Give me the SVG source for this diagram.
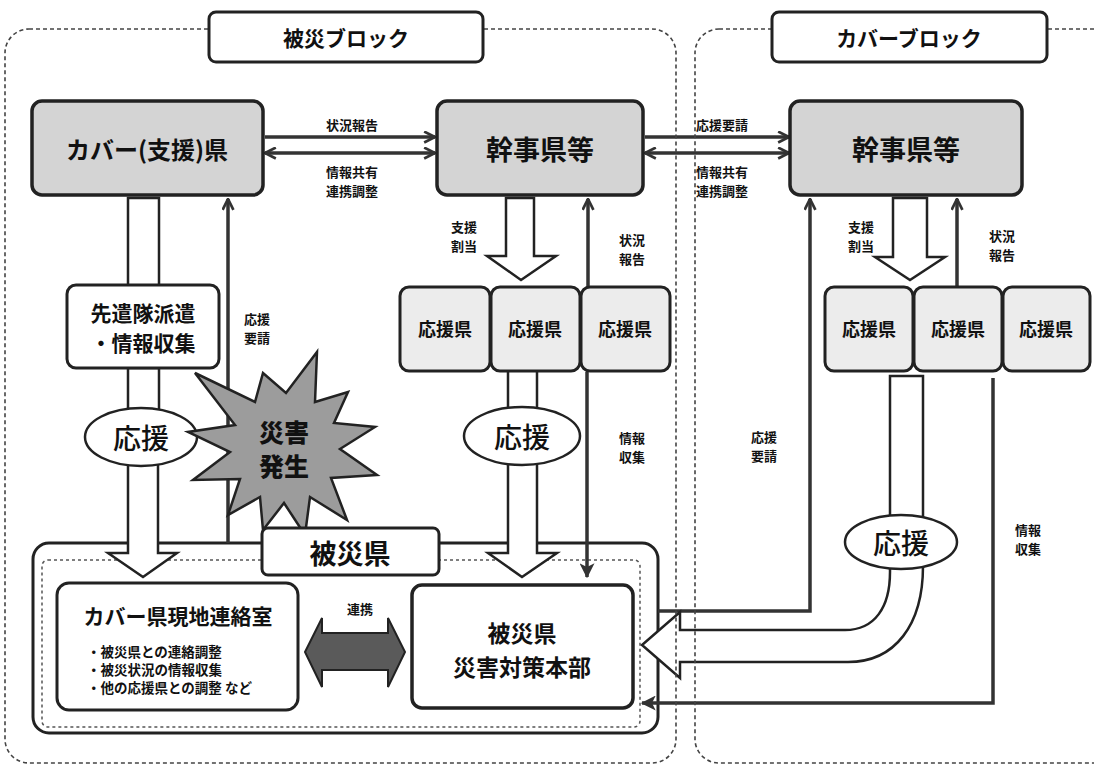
<svg xmlns="http://www.w3.org/2000/svg" width="1094" height="767" viewBox="0 0 1094 767">
<defs>
<style>
text{font-family:"Noto Sans CJK JP","Noto Sans CJK SC",sans-serif;font-weight:700;fill:#111;text-anchor:middle;dominant-baseline:central}
.blk{fill:none;stroke:#444;stroke-width:1.6;stroke-dasharray:4 3}
.title{fill:#fff;stroke:#222;stroke-width:3}
.main{fill:#d4d4d4;stroke:#222;stroke-width:3.5}
.sup{fill:#ececec;stroke:#222;stroke-width:3}
.wbox{fill:#fff;stroke:#222;stroke-width:3}
.hol{fill:#fff;stroke:#222;stroke-width:2.5;stroke-linejoin:miter}
.ell{fill:#fff;stroke:#222;stroke-width:2.5}
.ln{fill:none;stroke:#333;stroke-width:3.5}
.lbl{font-size:13px}
.yo{font-size:18px}
.oe{font-size:28px;font-weight:500}
</style>
<marker id="open" viewBox="0 0 12 12" refX="11" refY="6" markerWidth="13" markerHeight="13" markerUnits="userSpaceOnUse" orient="auto-start-reverse">
<path d="M1,1 L11,6 L1,11" fill="none" stroke="#333" stroke-width="2.5"/>
</marker>
<marker id="solid" viewBox="0 0 12 12" refX="11" refY="6" markerWidth="15" markerHeight="15" markerUnits="userSpaceOnUse" orient="auto">
<path d="M0,0 L12,6 L0,12 L3,6 z" fill="#333"/>
</marker>
</defs>
<rect width="1094" height="767" fill="#fff"/>

<g id="hisai-ken-outer">
<rect x="33" y="543" width="625" height="190" rx="16" class="wbox"/>
<rect x="42" y="560" width="598" height="167" rx="6" fill="none" stroke="#555" stroke-width="1.5" stroke-dasharray="3 3"/>
</g>

<g id="connectors">
<path class="ln" d="M265,137 H435" marker-end="url(#open)"/>
<path class="ln" d="M265,153 H435" marker-start="url(#open)" marker-end="url(#open)"/>
<path class="ln" d="M645,137 H789" marker-end="url(#open)"/>
<path class="ln" d="M645,153 H789" marker-start="url(#open)" marker-end="url(#open)"/>
<path class="ln" d="M228,543 V199" marker-end="url(#open)"/>
<path class="ln" d="M588,287 V199" marker-end="url(#open)"/>
<path class="ln" d="M587,372 V577" marker-end="url(#solid)"/>
<path class="ln" d="M658,611 H810 V199" marker-end="url(#open)"/>
<path class="ln" d="M957,287 V199" marker-end="url(#open)"/>
<path class="ln" d="M993,378 V703 H642" marker-end="url(#solid)"/>
<polygon class="hol" points="128,198 159,198 159,287 128,287"/>
<polygon class="hol" points="128,368 159,368 159,420 128,420"/>
<polygon class="hol" points="128,450 158,450 158,553 177,553 143,577 108,553 128,553"/>
<polygon class="hol" points="506,198 534,198 534,256 556,256 521,280 487,256 506,256"/>
<polygon class="hol" points="893,198 927,198 927,257 945,257 910,280 875,257 893,257"/>
<polygon class="hol" points="508,370 537,370 537,420 508,420"/>
<polygon class="hol" points="508,450 537,450 537,553 557,553 522,577 488,553 508,553"/>
<polygon class="hol" points="890,376 923,376 923,525 890,525"/>
<path class="hol" d="M890,550 L890,572 C890,607 875,630 845,630 L680,630 L680,612 L642,645 L680,678 L680,662 L848,662 C895,662 923,625 923,566 L923,550 Z"/>
<polygon points="305,652 322,618 322,633 388,633 388,618 405,652 388,687 388,670 322,670 322,687" fill="#5a5a5a" stroke="#222" stroke-width="2"/>
<text class="lbl" x="352" y="124">状況報告</text>
<text class="lbl" x="352" y="171">情報共有</text>
<text class="lbl" x="352" y="190">連携調整</text>
<text class="lbl" x="722" y="124">応援要請</text>
<text class="lbl" x="722" y="171">情報共有</text>
<text class="lbl" x="722" y="190">連携調整</text>
<text class="lbl" x="464" y="226">支援</text>
<text class="lbl" x="464" y="245">割当</text>
<text class="lbl" x="632" y="239">状況</text>
<text class="lbl" x="632" y="258">報告</text>
<text class="lbl" x="861" y="226">支援</text>
<text class="lbl" x="861" y="245">割当</text>
<text class="lbl" x="1002" y="235">状況</text>
<text class="lbl" x="1002" y="254">報告</text>
<text class="lbl" x="257" y="318">応援</text>
<text class="lbl" x="257" y="337">要請</text>
<text class="lbl" x="632" y="437">情報</text>
<text class="lbl" x="632" y="456">収集</text>
<text class="lbl" x="764" y="436">応援</text>
<text class="lbl" x="764" y="455">要請</text>
<text class="lbl" x="1028" y="529">情報</text>
<text class="lbl" x="1028" y="548">収集</text>
<text class="lbl" x="360" y="608">連携</text>
</g>

<g id="ouen-left"><ellipse class="ell" cx="141" cy="437" rx="56" ry="29"/><text class="oe" x="141" y="437">応援</text></g>
<g id="ouen-center"><ellipse class="ell" cx="522" cy="436" rx="58" ry="29"/><text class="oe" x="522" y="436">応援</text></g>
<g id="ouen-right"><ellipse class="ell" cx="901" cy="542" rx="56" ry="27"/><text class="oe" x="901" y="542">応援</text></g>

<g id="cover-ken"><rect x="32" y="101" width="231" height="94" rx="10" class="main"/><text x="147" y="148" style="font-size:24px">カバー(支援)県</text></g>
<g id="kanji-center"><rect x="437" y="101" width="206" height="94" rx="10" class="main"/><text x="540" y="148" style="font-size:27px">幹事県等</text></g>
<g id="kanji-right"><rect x="790" y="101" width="232" height="94" rx="10" class="main"/><text x="906" y="148" style="font-size:27px">幹事県等</text></g>

<g id="senken"><rect x="67" y="285" width="152" height="83" rx="9" class="wbox"/><text x="143" y="312" style="font-size:21px">先遣隊派遣</text><text x="143" y="342" style="font-size:21px">・情報収集</text></g>

<g id="ouenken-c1"><rect x="400" y="287" width="90" height="84" rx="9" class="sup"/><text class="yo" x="445" y="328">応援県</text></g>
<g id="ouenken-c2"><rect x="491" y="287" width="89" height="84" rx="9" class="sup"/><text class="yo" x="535" y="328">応援県</text></g>
<g id="ouenken-c3"><rect x="581" y="287" width="89" height="84" rx="9" class="sup"/><text class="yo" x="625" y="328">応援県</text></g>
<g id="ouenken-r1"><rect x="825" y="287" width="88" height="84" rx="9" class="sup"/><text class="yo" x="869" y="328">応援県</text></g>
<g id="ouenken-r2"><rect x="914" y="287" width="88" height="84" rx="9" class="sup"/><text class="yo" x="958" y="328">応援県</text></g>
<g id="ouenken-r3"><rect x="1003" y="287" width="87" height="84" rx="9" class="sup"/><text class="yo" x="1046" y="328">応援県</text></g>

<g id="saigai-hassei">
<polygon points="317,352 315,402 348,392 334,423 375,427 340,449 377,475 331,478 347,520 310,497 305,535 284,503 263,530 260,497 228,515 240,479 193,480 230,452 188,432 235,425 195,373 255,402 263,373 286,393" fill="#9c9c9c" stroke="#222" stroke-width="2.5" stroke-linejoin="miter"/>
<text x="284" y="431" style="font-size:25px;font-weight:900">災害</text>
<text x="284" y="465" style="font-size:25px;font-weight:900">発生</text>
</g>

<g id="hisai-ken-label"><rect x="262" y="528" width="177" height="47" rx="6" class="wbox"/><text x="350" y="552" style="font-size:27px">被災県</text></g>

<g id="cover-genchi">
<rect x="57" y="583" width="241" height="127" rx="12" class="wbox"/>
<text x="178" y="615" style="font-size:21px">カバー県現地連絡室</text>
<text x="87" y="651" style="font-size:13.5px;text-anchor:start">・被災県との連絡調整</text>
<text x="87" y="669" style="font-size:13.5px;text-anchor:start">・被災状況の情報収集</text>
<text x="87" y="687" style="font-size:13.5px;text-anchor:start">・他の応援県との調整  など</text>
</g>

<g id="taisaku-honbu">
<rect x="412" y="585" width="221" height="123" rx="10" class="wbox" style="stroke-width:3.5"/>
<text x="522" y="632" style="font-size:23px">被災県</text>
<text x="522" y="666" style="font-size:23px">災害対策本部</text>
</g>

<g id="blocks">
<rect x="5" y="29" width="671" height="734" rx="24" class="blk"/>
<rect x="695" y="29" width="430" height="734" rx="24" class="blk"/>
</g>

<g id="title-hisai"><rect x="209" y="12" width="274" height="50" rx="7" class="title"/><text x="346" y="37" style="font-size:21px">被災ブロック</text></g>
<g id="title-cover"><rect x="772" y="12" width="275" height="50" rx="7" class="title"/><text x="909" y="37" style="font-size:21px">カバーブロック</text></g>
</svg>
